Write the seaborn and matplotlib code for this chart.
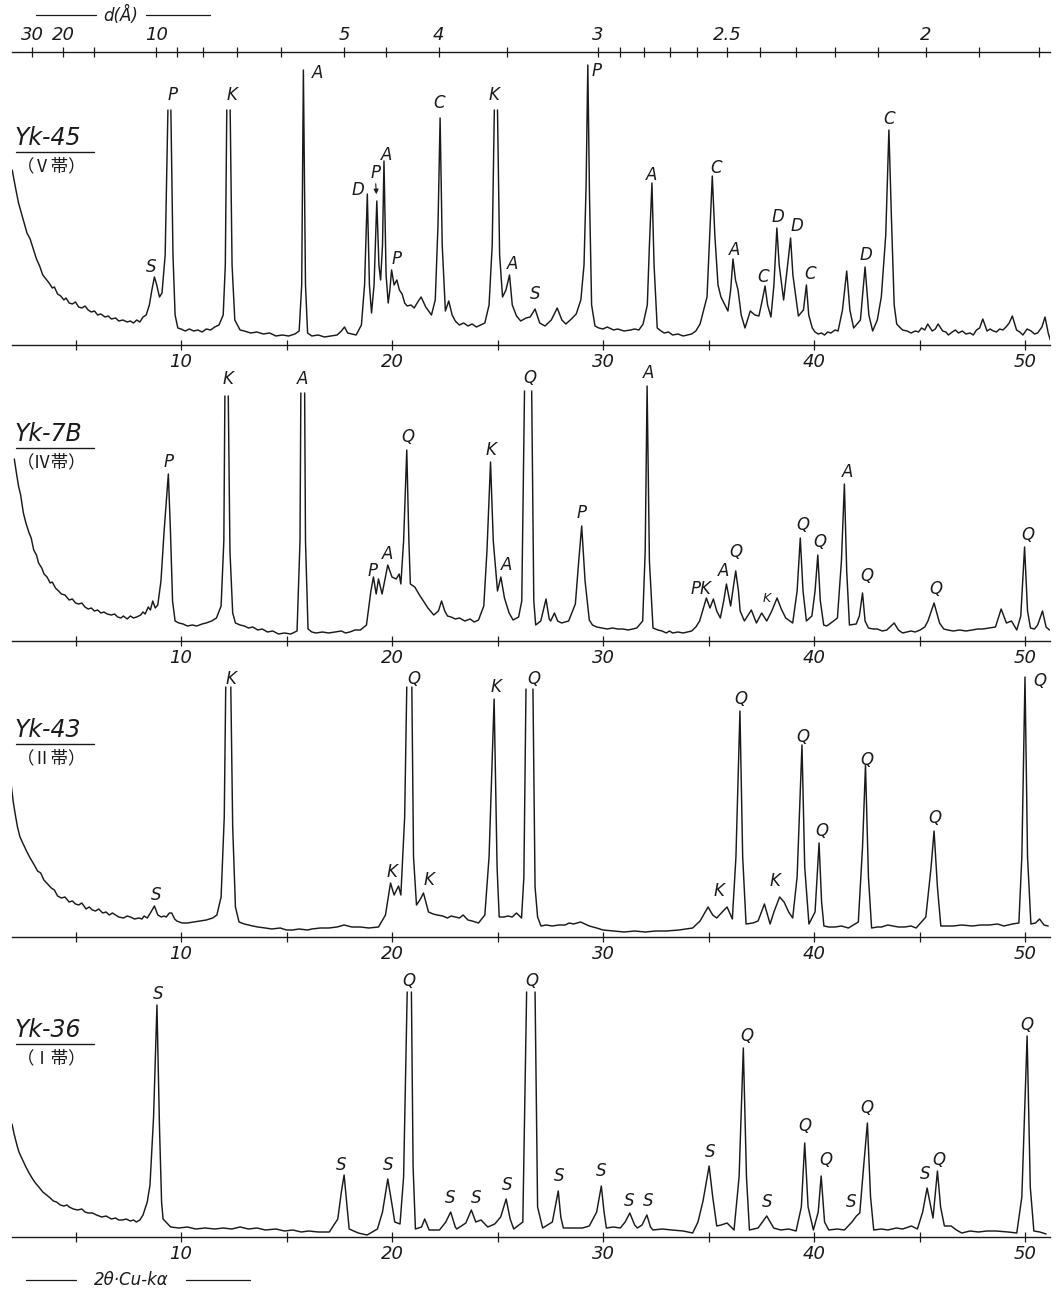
import numpy as np
import pandas as pd
import matplotlib
matplotlib.use("Agg")
import matplotlib.pyplot as plt
from matplotlib.lines import Line2D
import seaborn as sns

nan = float("nan")
GAP = (nan, nan)   # break in the trace: clipped (open-topped) peak

YK45_TRACE = [
    (2.0, 175), (2.15, 158), (2.3, 142), (2.5, 127), (2.7, 112), (2.85, 106), (3.0, 96), (3.15, 86), (3.3, 79), (3.45, 70),
    (3.6, 66), (3.75, 62), (3.9, 57), (4.0, 58), (4.15, 51), (4.3, 49), (4.45, 45), (4.55, 47), (4.7, 42), (4.85, 41),
    (5.0, 43), (5.15, 38), (5.3, 37), (5.45, 39), (5.6, 35), (5.75, 33), (5.9, 34), (6.05, 30), (6.2, 31), (6.4, 28),
    (6.55, 29), (6.7, 26), (6.9, 27), (7.05, 24), (7.25, 25), (7.45, 23), (7.6, 24), (7.75, 22), (7.9, 25), (8.05, 23),
    (8.2, 28), (8.35, 30), (8.5, 40), (8.62, 55), (8.74, 68), (8.85, 60), (8.98, 48), (9.1, 52), (9.25, 90), (9.38, 235),
    GAP, (9.52, 235), (9.62, 90), (9.72, 30), (9.85, 17), (10.0, 16), (10.2, 14), (10.4, 16), (10.6, 14), (10.8, 15),
    (11.0, 13), (11.2, 16), (11.4, 15), (11.6, 18), (11.8, 20), (12.0, 30), (12.1, 80), (12.17, 235), GAP, (12.33, 235),
    (12.42, 80), (12.55, 25), (12.8, 15), (13.0, 14), (13.3, 12), (13.6, 13), (13.9, 11), (14.2, 12), (14.5, 9), (14.8, 10),
    (15.1, 9), (15.4, 11), (15.6, 14), (15.72, 60), (15.8, 275), (15.9, 60), (16.0, 12), (16.2, 9), (16.5, 10), (16.8, 8),
    (17.1, 9), (17.4, 10), (17.6, 14), (17.75, 18), (17.9, 12), (18.1, 11), (18.3, 10), (18.55, 20), (18.7, 60), (18.83, 151),
    (18.93, 60), (19.03, 32), (19.15, 60), (19.28, 144), (19.38, 80), (19.46, 65), (19.55, 100), (19.62, 184), (19.72, 70), (19.82, 42),
    (19.9, 55), (19.98, 75), (20.1, 60), (20.23, 65), (20.35, 55), (20.48, 51), (20.6, 42), (20.72, 39), (20.9, 40), (21.05, 37),
    (21.25, 44), (21.38, 48), (21.6, 38), (21.87, 30), (22.05, 45), (22.18, 120), (22.28, 227), (22.38, 100), (22.53, 34), (22.69, 44),
    (22.85, 30), (23.0, 24), (23.19, 20), (23.4, 22), (23.6, 19), (23.8, 21), (24.0, 18), (24.2, 20), (24.4, 22), (24.6, 40),
    (24.75, 100), (24.85, 235), GAP, (25.0, 235), (25.1, 90), (25.24, 48), (25.4, 55), (25.57, 70), (25.7, 40), (25.9, 29),
    (26.1, 24), (26.35, 27), (26.55, 28), (26.78, 36), (27.0, 22), (27.25, 19), (27.55, 25), (27.83, 37), (28.05, 25), (28.24, 21),
    (28.5, 26), (28.73, 31), (28.95, 45), (29.1, 80), (29.2, 160), (29.28, 280), (29.36, 150), (29.46, 40), (29.62, 19), (29.8, 17),
    (30.0, 16), (30.2, 18), (30.5, 15), (30.7, 16), (31.0, 14), (31.3, 15), (31.5, 16), (31.7, 15), (31.9, 21), (32.1, 40),
    (32.2, 100), (32.32, 162), (32.42, 80), (32.57, 17), (32.75, 14), (32.9, 12), (33.1, 13), (33.3, 10), (33.55, 11), (33.8, 9),
    (34.0, 10), (34.2, 11), (34.4, 14), (34.6, 21), (34.93, 48), (35.08, 120), (35.18, 169), (35.3, 110), (35.45, 60), (35.59, 48),
    (35.92, 34), (36.05, 55), (36.16, 86), (36.28, 65), (36.4, 55), (36.55, 30), (36.73, 17), (36.98, 34), (37.2, 30), (37.39, 29),
    (37.55, 45), (37.68, 59), (37.8, 40), (37.96, 28), (38.1, 60), (38.24, 117), (38.35, 80), (38.56, 45), (38.75, 80), (38.89, 107),
    (39.0, 70), (39.26, 29), (39.5, 35), (39.64, 60), (39.75, 30), (39.92, 17), (40.05, 13), (40.2, 11), (40.35, 12), (40.5, 10),
    (40.65, 13), (40.8, 12), (41.0, 15), (41.14, 14), (41.35, 35), (41.55, 74), (41.7, 35), (41.88, 17), (42.2, 25), (42.42, 78),
    (42.6, 30), (42.78, 14), (43.0, 25), (43.19, 48), (43.4, 110), (43.55, 215), (43.68, 120), (43.8, 40), (43.92, 21), (44.05, 18),
    (44.2, 15), (44.41, 14), (44.6, 12), (44.8, 14), (44.95, 13), (45.1, 17), (45.25, 15), (45.39, 21), (45.6, 14), (45.75, 16),
    (45.88, 21), (46.1, 14), (46.25, 13), (46.37, 10), (46.55, 13), (46.7, 15), (46.85, 12), (47.03, 14), (47.2, 11), (47.4, 12),
    (47.55, 10), (47.7, 15), (47.85, 17), (48.0, 26), (48.2, 14), (48.35, 16), (48.5, 14), (48.65, 13), (48.8, 16), (48.95, 15),
    (49.1, 18), (49.25, 22), (49.4, 29), (49.6, 15), (49.75, 13), (49.9, 10), (50.1, 16), (50.29, 14), (50.45, 11), (50.6, 12),
    (50.8, 18), (50.95, 28), (51.1, 12), (51.2, 5),
]

YK7B_TRACE = [
    (2.1, 182), (2.2, 168), (2.3, 155), (2.4, 146), (2.53, 128), (2.65, 118), (2.8, 108), (2.9, 103), (3.02, 91), (3.15, 86),
    (3.25, 78), (3.4, 73), (3.51, 67), (3.65, 64), (3.8, 58), (3.9, 59), (4.05, 53), (4.2, 50), (4.33, 47), (4.5, 46),
    (4.7, 41), (4.85, 42), (5.0, 38), (5.15, 37), (5.3, 38), (5.45, 34), (5.6, 32), (5.75, 33), (5.9, 30), (6.05, 31),
    (6.2, 28), (6.35, 29), (6.5, 27), (6.7, 26), (6.85, 27), (7.0, 24), (7.15, 23), (7.27, 25), (7.45, 22), (7.6, 25),
    (7.75, 23), (7.9, 24), (8.09, 26), (8.2, 29), (8.3, 27), (8.45, 34), (8.55, 31), (8.66, 40), (8.78, 33), (8.9, 36),
    (9.05, 60), (9.2, 110), (9.4, 167), (9.5, 110), (9.6, 40), (9.72, 20), (9.9, 18), (10.1, 17), (10.3, 15), (10.54, 16),
    (10.75, 15), (11.0, 17), (11.19, 18), (11.45, 20), (11.68, 23), (11.9, 35), (12.03, 100), (12.08, 245), GAP, (12.24, 245),
    (12.32, 90), (12.45, 28), (12.58, 18), (12.8, 16), (13.0, 15), (13.2, 13), (13.4, 14), (13.64, 11), (13.85, 12), (14.1, 9),
    (14.35, 10), (14.62, 7), (14.9, 8), (15.2, 7), (15.5, 10), (15.64, 100), (15.68, 248), GAP, (15.86, 248), (15.9, 100),
    (16.02, 12), (16.2, 9), (16.4, 8), (16.7, 9), (17.0, 8), (17.3, 9), (17.6, 10), (17.8, 8), (18.0, 9), (18.25, 11),
    (18.5, 11), (18.79, 16), (19.0, 50), (19.12, 64), (19.25, 47), (19.36, 62), (19.53, 47), (19.8, 76), (20.0, 64), (20.2, 62),
    (20.34, 67), (20.42, 57), (20.55, 100), (20.7, 191), (20.8, 100), (20.87, 57), (21.08, 54), (21.3, 46), (21.49, 40), (21.7, 33),
    (21.98, 26), (22.2, 30), (22.35, 40), (22.5, 30), (22.63, 25), (22.8, 24), (23.0, 22), (23.2, 23), (23.45, 20), (23.7, 22),
    (23.9, 19), (24.1, 21), (24.35, 35), (24.5, 90), (24.67, 179), (24.8, 100), (25.0, 50), (25.16, 64), (25.33, 43), (25.55, 28),
    (25.74, 21), (26.0, 24), (26.15, 40), (26.28, 250), GAP, (26.62, 250), (26.72, 40), (26.81, 16), (27.05, 20), (27.3, 42),
    (27.45, 22), (27.52, 20), (27.7, 28), (27.85, 20), (28.04, 18), (28.2, 19), (28.37, 20), (28.69, 37), (28.85, 80), (28.99, 115),
    (29.15, 60), (29.35, 21), (29.5, 16), (29.7, 14), (29.95, 13), (30.2, 12), (30.45, 13), (30.7, 12), (30.95, 12), (31.2, 11),
    (31.4, 12), (31.6, 13), (31.88, 20), (32.0, 90), (32.09, 255), (32.2, 80), (32.37, 13), (32.6, 11), (32.8, 10), (33.0, 8),
    (33.15, 10), (33.3, 8), (33.55, 9), (33.8, 8), (34.0, 9), (34.2, 10), (34.4, 14), (34.58, 20), (34.9, 43), (35.07, 33),
    (35.23, 42), (35.39, 30), (35.56, 23), (35.72, 40), (35.85, 57), (36.05, 35), (36.15, 50), (36.29, 70), (36.42, 50), (36.5, 30),
    (36.7, 20), (37.03, 31), (37.27, 18), (37.52, 28), (37.76, 20), (38.0, 30), (38.25, 43), (38.45, 32), (38.66, 23), (38.99, 18),
    (39.2, 50), (39.35, 103), (39.48, 50), (39.64, 20), (39.9, 25), (40.05, 50), (40.18, 86), (40.3, 40), (40.46, 16), (40.6, 15),
    (40.8, 18), (41.11, 23), (41.3, 80), (41.44, 157), (41.55, 70), (41.68, 16), (42.0, 17), (42.15, 25), (42.3, 48), (42.42, 20),
    (42.58, 13), (42.8, 12), (43.0, 12), (43.24, 10), (43.45, 11), (43.6, 14), (43.8, 18), (44.0, 11), (44.2, 8), (44.4, 9),
    (44.6, 10), (44.8, 9), (45.03, 11), (45.25, 14), (45.4, 20), (45.69, 38), (45.95, 18), (46.15, 12), (46.34, 11), (46.6, 10),
    (46.9, 11), (47.2, 10), (47.5, 11), (47.75, 12), (48.0, 12), (48.3, 13), (48.6, 14), (48.87, 32), (49.12, 18), (49.36, 20),
    (49.61, 11), (49.8, 25), (49.98, 94), (50.12, 30), (50.26, 13), (50.45, 12), (50.6, 16), (50.83, 30), (51.0, 14), (51.16, 11),
]

YK43_TRACE = [
    (1.96, 151), (2.05, 135), (2.15, 122), (2.25, 110), (2.37, 100), (2.5, 94), (2.7, 85), (2.85, 79), (3.02, 73), (3.2, 66),
    (3.35, 64), (3.5, 57), (3.68, 53), (3.85, 49), (4.0, 47), (4.15, 41), (4.33, 39), (4.5, 40), (4.7, 35), (4.85, 36),
    (5.0, 33), (5.15, 32), (5.3, 34), (5.5, 28), (5.65, 30), (5.8, 27), (5.95, 26), (6.1, 28), (6.29, 24), (6.45, 25),
    (6.6, 22), (6.75, 24), (6.9, 22), (7.05, 20), (7.27, 19), (7.45, 21), (7.6, 20), (7.8, 18), (8.0, 19), (8.15, 18),
    (8.25, 21), (8.4, 19), (8.55, 24), (8.74, 31), (8.9, 22), (9.07, 20), (9.2, 21), (9.3, 20), (9.45, 24), (9.56, 24),
    (9.7, 18), (9.8, 16), (10.05, 14), (10.3, 14), (10.6, 15), (10.9, 16), (11.2, 17), (11.5, 19), (11.7, 22), (11.9, 40),
    (12.05, 120), (12.12, 250), GAP, (12.36, 250), (12.45, 110), (12.58, 30), (12.75, 15), (13.0, 13), (13.2, 12), (13.4, 11),
    (13.64, 10), (14.0, 9), (14.3, 8), (14.7, 9), (15.0, 7), (15.28, 7), (15.6, 8), (16.0, 7), (16.2, 8), (16.6, 9),
    (17.0, 9), (17.4, 10), (17.73, 12), (18.1, 10), (18.5, 10), (18.9, 9), (19.36, 10), (19.69, 22), (19.93, 54), (20.1, 42),
    (20.31, 51), (20.42, 42), (20.6, 120), (20.7, 250), GAP, (20.94, 250), (21.02, 80), (21.16, 32), (21.35, 38), (21.49, 44),
    (21.73, 25), (21.95, 23), (22.14, 22), (22.4, 21), (22.63, 19), (22.8, 21), (23.0, 20), (23.2, 19), (23.37, 22), (23.6, 17),
    (23.8, 16), (24.1, 14), (24.4, 22), (24.6, 80), (24.84, 238), (24.98, 70), (25.08, 20), (25.3, 20), (25.5, 21), (25.7, 20),
    (25.9, 24), (26.14, 19), (26.25, 60), (26.35, 248), GAP, (26.68, 248), (26.78, 50), (26.9, 20), (27.06, 11), (27.3, 12),
    (27.6, 11), (27.9, 12), (28.2, 12), (28.4, 14), (28.6, 13), (28.94, 15), (29.35, 11), (29.7, 9), (30.0, 7), (30.5, 6),
    (31.0, 5), (31.5, 6), (32.0, 5), (32.5, 6), (33.0, 6), (33.6, 7), (34.25, 9), (34.6, 16), (34.98, 30), (35.2, 22),
    (35.39, 19), (35.65, 25), (35.88, 30), (36.13, 18), (36.3, 80), (36.49, 226), (36.62, 80), (36.78, 13), (37.1, 14), (37.35, 16),
    (37.65, 33), (37.92, 13), (38.1, 25), (38.37, 40), (38.58, 35), (38.8, 25), (38.99, 19), (39.2, 60), (39.43, 192), (39.56, 70),
    (39.76, 13), (40.05, 25), (40.24, 94), (40.36, 35), (40.47, 11), (40.7, 10), (41.0, 10), (41.3, 11), (41.63, 9), (42.1, 15),
    (42.3, 90), (42.44, 172), (42.58, 60), (42.73, 9), (43.0, 10), (43.2, 10), (43.5, 12), (43.74, 11), (44.0, 10), (44.3, 10),
    (44.6, 11), (44.84, 9), (45.3, 20), (45.55, 70), (45.69, 106), (45.85, 50), (46.01, 11), (46.3, 11), (46.6, 11), (47.0, 12),
    (47.5, 11), (47.9, 12), (48.3, 12), (48.7, 13), (49.0, 11), (49.4, 13), (49.71, 14), (49.85, 80), (50.0, 260), (50.12, 80),
    (50.28, 13), (50.5, 14), (50.69, 18), (50.9, 12), (51.1, 11),
]

YK36_TRACE = [
    (1.99, 113), (2.08, 104), (2.15, 98), (2.25, 90), (2.32, 85), (2.45, 79), (2.65, 70), (2.8, 64), (2.97, 58), (3.1, 54),
    (3.3, 49), (3.45, 45), (3.63, 42), (3.8, 39), (3.95, 36), (4.1, 35), (4.28, 32), (4.45, 31), (4.6, 32), (4.7, 30),
    (4.9, 28), (5.1, 27), (5.3, 28), (5.45, 25), (5.6, 24), (5.8, 24), (6.0, 22), (6.24, 20), (6.45, 21), (6.7, 18),
    (6.9, 19), (7.05, 17), (7.22, 17), (7.4, 18), (7.6, 16), (7.75, 17), (7.88, 15), (8.05, 17), (8.2, 22), (8.4, 35),
    (8.53, 52), (8.7, 120), (8.86, 232), (8.98, 110), (9.08, 35), (9.15, 18), (9.51, 10), (9.9, 9), (10.3, 10), (10.7, 8),
    (11.14, 9), (11.6, 8), (12.0, 9), (12.4, 8), (12.8, 10), (13.2, 8), (13.6, 9), (14.0, 7), (14.5, 8), (14.9, 6),
    (15.3, 7), (15.7, 5), (16.05, 6), (16.5, 5), (17.03, 5), (17.43, 18), (17.6, 45), (17.73, 62), (17.85, 35), (17.97, 8),
    (18.4, 4), (18.82, 2), (19.31, 8), (19.55, 25), (19.8, 58), (19.98, 35), (20.13, 15), (20.38, 13), (20.55, 60), (20.72, 245),
    GAP, (20.92, 245), (21.0, 70), (21.11, 8), (21.4, 10), (21.55, 18), (21.76, 7), (22.25, 7), (22.55, 15), (22.78, 25),
    (23.0, 10), (23.07, 8), (23.5, 14), (23.76, 27), (23.97, 15), (24.22, 17), (24.54, 10), (24.87, 13), (25.15, 20), (25.41, 38),
    (25.6, 18), (25.77, 8), (26.2, 15), (26.38, 245), GAP, (26.78, 245), (26.9, 30), (27.14, 9), (27.6, 15), (27.88, 46),
    (28.0, 20), (28.12, 9), (28.6, 9), (29.02, 9), (29.35, 11), (29.7, 25), (29.92, 51), (30.05, 25), (30.16, 9), (30.5, 10),
    (30.82, 9), (31.05, 15), (31.27, 24), (31.5, 12), (31.63, 9), (31.85, 12), (32.08, 22), (32.25, 10), (32.37, 7), (32.8, 8),
    (33.27, 7), (33.8, 6), (34.25, 4), (34.5, 15), (34.74, 36), (35.03, 71), (35.2, 40), (35.39, 11), (35.6, 12), (35.88, 14),
    (36.21, 7), (36.45, 60), (36.65, 189), (36.8, 60), (36.94, 7), (37.35, 9), (37.76, 21), (38.09, 9), (38.42, 7), (38.8, 8),
    (39.15, 6), (39.4, 30), (39.56, 94), (39.72, 30), (39.97, 7), (40.2, 25), (40.34, 61), (40.5, 15), (40.7, 7), (41.1, 8),
    (41.44, 7), (41.8, 15), (42.01, 21), (42.17, 24), (42.35, 70), (42.53, 114), (42.68, 40), (42.83, 7), (43.2, 8), (43.5, 7),
    (43.9, 9), (44.2, 8), (44.62, 11), (44.9, 8), (45.15, 25), (45.36, 49), (45.64, 19), (45.85, 66), (46.0, 30), (46.18, 11),
    (46.5, 11), (46.75, 7), (47.0, 4), (47.4, 6), (47.8, 5), (48.2, 6), (48.63, 6), (49.2, 5), (49.61, 4), (49.85, 40),
    (50.1, 201), (50.25, 50), (50.42, 6), (50.7, 5), (51.0, 3),
]

# ---------------- mineral peak labels ----------------
YK45_LABELS = ["S", "P", "K", "A", "D", "P", "A", "P", "C", "K", "A", "S", "P", "A", "C", "A", "C", "D", "D", "C", "D", "C"]
YK45_LABEL_THETA = [8.6, 9.62, 12.42, 16.45, 18.37, 19.2, 19.72, 20.22, 22.25, 24.85, 25.72, 26.8, 29.7, 32.32, 35.35, 36.22, 37.6, 38.28, 39.17, 39.8, 42.45, 43.56]
YK45_LABEL_COUNTS = [78, 250, 250, 272, 155, 172, 190, 86, 242, 250, 81, 51, 274, 170, 177, 95, 68, 128, 119, 71, 90, 226]

YK7B_LABELS = ["P", "K", "A", "P", "A", "Q", "K", "A", "Q", "P", "A", "PK", "A", "Q", "K", "Q", "Q", "A", "Q", "Q", "Q"]
YK7B_LABEL_THETA = [9.4, 12.25, 15.75, 19.1, 19.77, 20.75, 24.67, 25.41, 26.55, 28.99, 32.16, 34.66, 35.72, 36.29, 37.76, 39.48, 40.26, 41.6, 42.5, 45.77, 50.15]
YK7B_LABEL_COUNTS = [179, 262, 262, 70, 87, 204, 191, 76, 263, 128, 268, 52, 70, 89, 43, 116, 99, 169, 65, 52, 106]

YK43_LABELS = ["S", "K", "K", "Q", "K", "K", "Q", "K", "Q", "K", "Q", "Q", "Q", "Q", "Q"]
YK43_LABEL_THETA = [8.82, 12.38, 19.98, 21.02, 21.76, 24.91, 26.72, 35.52, 36.54, 38.17, 39.48, 40.39, 42.5, 45.74, 50.7]
YK43_LABEL_COUNTS = [42, 258, 65, 258, 57, 250, 258, 46, 238, 56, 200, 106, 177, 119, 256]

YK36_LABELS = ["S", "S", "S", "Q", "S", "S", "S", "Q", "S", "S", "S", "S", "S", "Q", "S", "Q", "Q", "S", "Q", "S", "Q", "Q"]
YK36_LABEL_THETA = [8.94, 17.6, 19.8, 20.82, 22.75, 23.97, 25.44, 26.63, 27.92, 29.92, 31.23, 32.12, 35.1, 36.81, 37.79, 39.56, 40.54, 41.76, 42.5, 45.25, 45.9, 50.07]
YK36_LABEL_COUNTS = [243, 72, 72, 256, 39, 39, 52, 256, 61, 66, 36, 36, 85, 201, 35, 111, 77, 35, 129, 63, 77, 212]

PANEL_NAMES = ["Yk-45", "Yk-7B", "Yk-43", "Yk-36"]
PANEL_ZONES = ["（Ⅴ帯）", "（Ⅳ帯）", "（Ⅱ帯）", "（Ⅰ帯）"]

TWO_THETA_TICKS = [10, 20, 30, 40, 50]
TWO_THETA_MINOR = [5, 15, 25, 35, 45]
D_MAJOR = [30, 20, 10, 5, 4, 3, 2.5, 2]
D_MAJOR_LABELS = ["30", "20", "10", "5", "4", "3", "2.5", "2"]
D_MINOR = [15, 9, 8, 7, 6, 4.5, 3.5, 2.9, 2.8, 2.7, 2.6, 2.4, 2.3, 2.2, 2.1, 1.9, 1.8]
CU_KALPHA = 1.5406

# ---------------- style ----------------
sns.set_theme(style="white")
plt.rcParams["font.family"] = ["DejaVu Sans", "Noto Sans CJK JP"]
plt.rcParams["axes.unicode_minus"] = False
INK = "#1a1a1a"

W, H = 1062, 1289
fig = plt.figure(figsize=(W / 100, H / 100), dpi=100)
fig.patch.set_facecolor("white")

X_LEFT, X_RIGHT = 12, 1050
PX_PER_DEG = 21.1
X_AT_10 = 181
TH_MIN = 10 + (X_LEFT - X_AT_10) / PX_PER_DEG
TH_MAX = 10 + (X_RIGHT - X_AT_10) / PX_PER_DEG
BASES = [345, 641, 937, 1237]
PANEL_H = 293


def fx(px):
    return px / W


def fy(py):
    return 1 - py / H


def bragg(d):
    return np.degrees(2 * np.arcsin(CU_KALPHA / (2 * np.asarray(d, dtype=float))))


panels = [
    (YK45_TRACE, YK45_LABELS, YK45_LABEL_THETA, YK45_LABEL_COUNTS),
    (YK7B_TRACE, YK7B_LABELS, YK7B_LABEL_THETA, YK7B_LABEL_COUNTS),
    (YK43_TRACE, YK43_LABELS, YK43_LABEL_THETA, YK43_LABEL_COUNTS),
    (YK36_TRACE, YK36_LABELS, YK36_LABEL_THETA, YK36_LABEL_COUNTS),
]

axes = []
for i, (trace, labs, lth, lct) in enumerate(panels):
    yb = BASES[i]
    ax = fig.add_axes([fx(X_LEFT), fy(yb), (X_RIGHT - X_LEFT) / W, PANEL_H / H])
    ax.set_facecolor("none")
    arr = np.array(trace, dtype=float)
    seg = np.cumsum(np.isnan(arr[:, 1]))
    df = pd.DataFrame({"theta": arr[:, 0], "counts": arr[:, 1], "seg": seg}).dropna()
    sns.lineplot(data=df, x="theta", y="counts", units="seg", estimator=None, sort=False,
                 color=INK, linewidth=1.05, ax=ax, legend=False)
    ax.set_xlim(TH_MIN, TH_MAX)
    ax.set_ylim(0, PANEL_H)
    for s in ("top", "left", "right"):
        ax.spines[s].set_visible(False)
    ax.spines["bottom"].set_color(INK)
    ax.spines["bottom"].set_linewidth(1.0)
    ax.set_yticks([])
    ax.set_xlabel("")
    ax.set_ylabel("")
    ax.grid(False)
    ax.set_xticks(TWO_THETA_TICKS)
    ax.set_xticklabels([str(t) for t in TWO_THETA_TICKS], fontsize=13, fontstyle="italic")
    ax.set_xticks(TWO_THETA_MINOR, minor=True)
    ax.tick_params(axis="x", which="both", direction="inout", length=7, width=0.9,
                   color=INK, bottom=True, pad=2, labelcolor=INK)
    for j, (t, x, y) in enumerate(zip(labs, lth, lct)):
        size = 12
        if i == 1 and t == "K" and x > 37:
            size = 9
        ax.text(x, y, t, ha="center", va="center", fontsize=size, fontstyle="italic", color=INK)
    if i == 0:
        ax.annotate("", xy=(19.27, 148), xytext=(19.22, 164),
                    arrowprops=dict(arrowstyle="-|>", lw=0.8, color=INK, mutation_scale=7))
    fig.text(fx(15), fy(yb - 207), PANEL_NAMES[i], ha="left", va="center",
             fontsize=17, fontstyle="italic", color=INK)
    fig.add_artist(Line2D([fx(16), fx(94)], [fy(yb - 193)] * 2, color=INK, lw=1.0))
    fig.text(fx(17), fy(yb - 179), PANEL_ZONES[i], ha="left", va="center",
             fontsize=12.5, family=["Noto Sans CJK JP"], color=INK)
    axes.append(ax)

# top d-spacing axis
axt = axes[0].twiny()
axt.set_xlim(TH_MIN, TH_MAX)
axt.set_facecolor("none")
for s in ("bottom", "left", "right"):
    axt.spines[s].set_visible(False)
axt.spines["top"].set_color(INK)
axt.spines["top"].set_linewidth(1.0)
axt.set_xticks(bragg(D_MAJOR))
axt.set_xticklabels(D_MAJOR_LABELS, fontsize=13, fontstyle="italic")
axt.set_xticks(bragg(D_MINOR), minor=True)
axt.tick_params(axis="x", which="both", direction="inout", length=7, width=0.9, color=INK,
                top=True, bottom=False, labeltop=True, labelbottom=False, pad=2, labelcolor=INK)
axt.set_yticks([])
axt.grid(False)

# axis captions
fig.add_artist(Line2D([fx(36), fx(96)], [fy(15)] * 2, color=INK, lw=0.9))
fig.text(fx(121), fy(15), "d(Å)", ha="center", va="center", fontsize=12, fontstyle="italic", color=INK)
fig.add_artist(Line2D([fx(146), fx(210)], [fy(15)] * 2, color=INK, lw=0.9))

fig.add_artist(Line2D([fx(26), fx(76)], [fy(1280)] * 2, color=INK, lw=0.9))
fig.text(fx(131), fy(1280), "2θ·Cu-kα", ha="center", va="center", fontsize=12, fontstyle="italic", color=INK)
fig.add_artist(Line2D([fx(186), fx(250)], [fy(1280)] * 2, color=INK, lw=0.9))

fig.savefig("out.png", dpi=100, facecolor="white")
